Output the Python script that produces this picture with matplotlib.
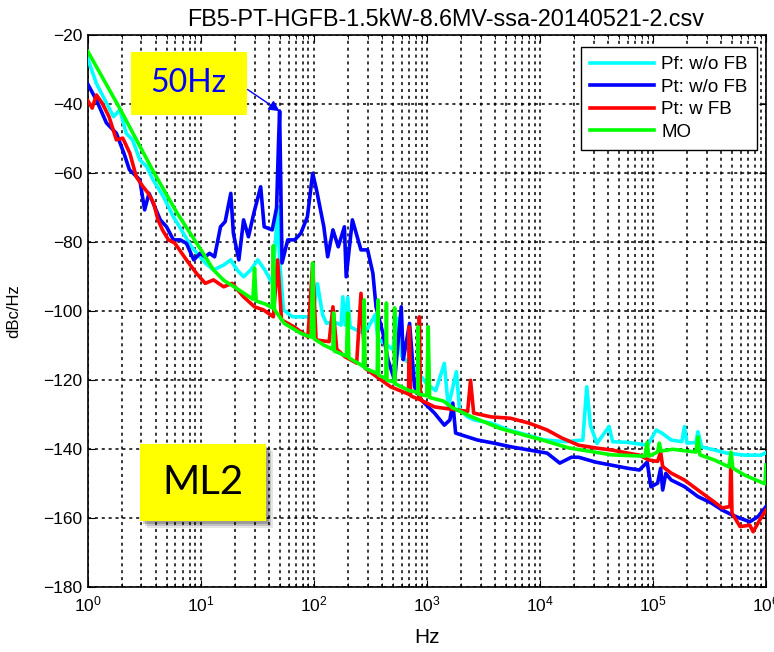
import numpy as np
import matplotlib
matplotlib.use('Agg')
import matplotlib.pyplot as plt
from matplotlib.patches import Rectangle

plt.rcParams['font.family'] = ['Liberation Sans', 'DejaVu Sans']
plt.rcParams['mathtext.fontset'] = 'custom'
plt.rcParams['mathtext.rm'] = 'Liberation Sans'
plt.rcParams['mathtext.it'] = 'Liberation Sans'

title = 'FB5-PT-HGFB-1.5kW-8.6MV-ssa-20140521-2.csv'
labels = ['Pf: w/o FB', 'Pt: w/o FB', 'Pt: w FB', 'MO']
colors = ['#00FFFF', '#0000FF', '#FF0000', '#00FF00']

# Pf w/o FB (cyan)
pf_f = [1, 1.2, 1.47, 1.7, 1.93, 2.2, 2.5, 2.9, 3.33, 3.8, 4.7, 5.75, 7.05, 8.3, 9.9,
        11, 13, 16, 18.5, 21, 24, 27.8, 32, 37, 43, 46, 48, 50, 54, 65, 90, 100, 108, 120,
        130, 150, 175, 181, 190, 200, 210, 260, 300, 350, 370, 500, 550, 600, 800, 1000,
        1200, 1430, 1550, 1830, 1950, 2300, 2630, 3700, 5300, 7800, 11000, 17000, 24000,
        26000, 28000, 32000, 41000, 44000, 60000, 90000, 107000, 120000, 145000, 180000,
        190000, 200000, 240000, 250000, 270000, 350000, 450000, 650000, 900000, 1000000]
pf_db = [-26.6, -34, -39.6, -43.6, -41.6, -48.4, -50.3, -56.1, -58, -61.9, -66.8, -72.6, -77.4, -81.3, -84.2,
         -86, -88, -86.6, -85.1, -88, -90, -88, -85.1, -88, -91.9, -80, -69.7, -85, -99.6, -101.6, -101.6, -99, -92, -101,
         -103.5, -103, -104, -95.8, -104, -96, -104.5, -106, -105, -101, -108, -111, -102, -113, -117, -121,
         -123, -115.1, -127.7, -117.5, -128.5, -130.6, -131.5, -132.4, -134.4, -135.9, -137.3, -137.8, -137.3,
         -121.9, -133, -138.3, -133.4, -137.8, -138, -138.8, -134.4, -135.3, -137.3, -137.8,
         -133.4, -138.2, -138, -134.9, -139.3, -140.2, -141.1, -141.7, -141.7, -141]

# Pt w/o FB (blue)
pt_f = [1, 1.2, 1.47, 1.8, 2.1, 2.35, 2.54, 2.9, 3.2, 3.5, 4.4, 5.0, 5.75, 6.6, 7.5, 8.7, 9.9,
        11, 12, 13.3, 15, 16.5, 18.5, 19.5, 21.8, 24, 26.5, 29.6, 34, 36.5, 43, 47, 49, 50, 51,
        52.5, 59, 68, 77, 88, 98, 106, 123, 133, 148, 165, 187, 194, 220, 262, 300, 334, 356,
        410, 455, 520, 595, 620, 705, 780, 895, 1170, 1430, 1600, 1700, 1800, 2800, 3900, 5600,
        8000, 11600, 15000, 19000, 22000, 31000, 43000, 60000, 76000, 89000, 96000, 110000,
        117000, 122000, 130000, 145000, 190000, 250000, 330000, 410000, 500000, 590000, 720000,
        850000, 1000000]
pt_db = [-34, -38.8, -45.4, -48.4, -54.2, -59, -60, -61.9, -70.6, -65.8, -73.5, -75.5, -79.3, -79.3, -80.3, -85.1, -83.2,
         -84.2, -83.2, -84.2, -75.5, -74, -65.8, -77.4, -85.1, -73.5, -78.4, -71.5, -63.9, -75.5, -76.4, -70, -50, -42, -60,
         -86, -79.3, -79.3, -77.4, -72.6, -60, -64.8, -75.5, -84.2, -76.4, -81.3, -75.5, -90, -73.5, -82.2, -82.2, -89, -98.7,
         -106.4, -114.1, -120, -98.7, -114, -103.5, -121.9, -125.7, -129.5, -133, -131.5, -126.6, -135.3, -137.3, -138.2, -139.3,
         -140.2, -141.1, -144, -142.3, -142.3, -143.7, -144.6, -145.5, -146, -143.7, -150.9, -149.8,
         -145.5, -151.8, -147, -148.9, -150.8, -153.7, -155.6, -157.6, -159, -160, -161,
         -159.5, -156.6]

# Pt w FB (red)
ptfb_f = [1, 1.1, 1.2, 1.35, 1.55, 1.8, 2.05, 2.37, 2.7, 3.1, 3.45, 3.85, 4.2, 4.6, 5.2, 5.9, 7.5, 9.2,
          11, 13, 16, 19, 24, 30, 36, 44, 48, 52, 67, 89, 98, 105, 137, 148, 160, 190, 240, 262, 285,
          395, 480, 690, 700, 720, 850, 860, 880, 1170, 1350, 2300, 2440, 2600, 3700, 5500, 8000, 11600,
          15600, 22000, 31000, 43000, 60000, 76000, 92000, 110000, 117000, 122000, 145000, 190000,
          250000, 330000, 410000, 480000, 490000, 500000, 590000, 720000, 770000, 880000, 1000000]
ptfb_db = [-38.8, -41.1, -37.3, -39.7, -43.6, -50.3, -49.8, -54.2, -61, -63.9, -65.8, -68.7, -73.5, -76.4, -79.3, -80.2, -85.1, -89,
           -91.9, -90.9, -92.9, -91.9, -95.8, -98.7, -99.6, -101.6, -85.1, -102.5, -104.5, -107.4, -86.1, -108.3, -108.8, -98.7, -111, -113.2, -115, -94.8, -116.5,
           -119.9, -121.9, -124, -104.5, -124.5, -125.5, -101.6, -125.7, -127.7, -128, -129, -120, -129.5, -130.6, -131, -132.4, -134.4,
           -136.7, -138.8, -139.6, -140.2, -141.1, -141.7, -143.1, -143.5, -140.8, -145, -146.9, -148.9,
           -151.8, -154.7, -157, -156.6, -141.6, -158.5, -162.4, -162, -163.9, -160.5, -157.6]

# MO (green)
mo_f = [1, 1.9, 3.9, 6.2, 9.2, 10, 13, 16, 20, 24, 29, 30, 31, 38, 43, 44, 45, 55, 77, 95, 98, 101,
        123, 148, 150, 152, 195, 200, 205, 246, 275, 280, 285, 365, 370, 375, 435, 440, 445, 515, 520,
        525, 700, 835, 840, 845, 1000, 1030, 1060, 1400, 1700, 2500, 4500, 11000, 18000, 43000, 85000,
        89000, 92000, 110000, 114000, 118000, 150000, 200000, 240000, 250000, 260000, 350000, 470000,
        490000, 510000, 650000, 900000, 980000, 1000000]
mo_db = [-24.5, -40.8, -60, -71.5, -80.2, -82, -88, -91, -93, -94.7, -96.5, -87.5, -97, -98, -99, -81, -99.5, -103.5, -106.4, -107.5, -86, -108,
         -109.8, -111, -100.5, -111.5, -113, -100.5, -113.5, -115, -116, -96.7, -116.5, -118, -96.7, -118.5, -119.5, -97.6, -120, -120.5, -99,
         -121, -123, -123.5, -104.5, -124, -124.5, -104.5, -125, -126, -128, -130.6, -134, -137.5, -139.6, -141.6, -142,
         -138, -142, -140.8, -138.2, -140.5, -140, -140.5, -140.8, -136.4, -141.6, -143.1, -145.1,
         -140.8, -145.5, -147.5, -149.5, -150, -144.5]

yticks = [-180, -160, -140, -120, -100, -80, -60, -40, -20]

fig = plt.figure(figsize=(7.74, 6.52), dpi=100)
ax = fig.add_axes([87.5/774, 1-587.3/652, 678.5/774, 552/652])

series = [(pf_f, pf_db), (pt_f, pt_db), (ptfb_f, ptfb_db), (mo_f, mo_db)]
for (f, d), c, lab in zip(series, colors, labels):
    ax.plot(f, d, color=c, lw=2.6, label=lab, zorder=3)

ax.set_xscale('log')
ax.set_xlim(1, 1e6)
ax.set_ylim(-180, -20)
ax.set_yticks(yticks)
ax.set_yticklabels([str(v).replace('-', '\u2212') for v in yticks])
ax.grid(True, which='major', color='k', ls=(0, (2, 2.5)), lw=1.1)
ax.grid(True, which='minor', axis='x', color='k', ls=(0, (2, 2.5)), lw=1.1)
ax.tick_params(which='both', direction='in', top=True, right=True)
ax.tick_params(axis='y', labelsize=12.5)
ax.tick_params(axis='x', labelsize=12.5, pad=5)
ax.tick_params(which='major', length=5)
ax.tick_params(which='minor', length=3)
for s in ax.spines.values():
    s.set_linewidth(1.2)

ax.set_title(title, fontsize=16.8, pad=7, x=0.528)
ax.set_xlabel('Hz', fontsize=15)
ax.xaxis.set_label_coords(0.5, -0.074)
ax.set_ylabel('dBc/Hz', fontsize=12)
ax.yaxis.set_label_coords(-0.097, 0.5)

leg = ax.legend(loc='upper right', bbox_to_anchor=(0.987, 0.979), borderaxespad=0,
                fancybox=False, edgecolor='k', framealpha=1, fontsize=13.5,
                handlelength=3.4, labelspacing=0.28, borderpad=0.5, handletextpad=0.4)
leg.get_frame().set_linewidth(1.0)

# 50Hz callout
ax.add_patch(Rectangle((0.0635, 0.8556), 0.171, 0.1147, transform=ax.transAxes,
                       fc='#FFFF00', ec='none', zorder=5))
ax.text(0.149, 0.913, '50Hz', transform=ax.transAxes, ha='center', va='center',
        fontsize=23, color='#0000FF', family='Lato', zorder=6)
i = pt_f.index(50)
ax.annotate('', xy=(pt_f[i], pt_db[i]), xytext=(26, -35.7),
            arrowprops=dict(arrowstyle='-|>', color='#0000FF', lw=1, mutation_scale=16,
                            shrinkA=0, shrinkB=0), zorder=6)

# ML2 label with shadow
for k, a in [(7, 0.10), (5, 0.15), (3, 0.2)]:
    ax.add_patch(Rectangle((0.0773 + k/678.5, 0.1201 - k/552), 0.1857, 0.1395,
                           transform=ax.transAxes, fc='k', ec='none', alpha=a, zorder=5))
ax.add_patch(Rectangle((0.0773, 0.1201), 0.1857, 0.1395, transform=ax.transAxes,
                       fc='#FFFF00', ec='none', zorder=6))
ax.text(0.170, 0.190, 'ML2', transform=ax.transAxes, ha='center', va='center',
        fontsize=29, color='k', family='Lato', zorder=7)

fig.savefig('out.png', dpi=100)
